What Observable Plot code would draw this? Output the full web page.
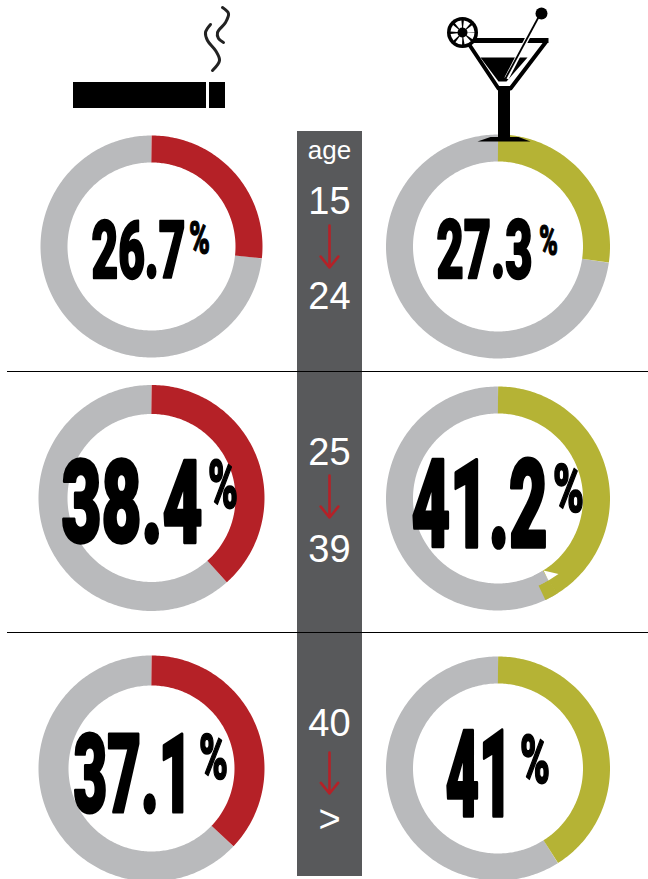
<!DOCTYPE html>
<html><head><meta charset="utf-8">
<script src="https://cdn.jsdelivr.net/npm/d3@7"></script>
<script src="https://cdn.jsdelivr.net/npm/@observablehq/plot@0.6"></script>
<style>html,body{margin:0;padding:0;background:#fff;overflow:hidden}svg{display:block}</style>
</head><body><script>
// ---- values ----
const smokers = [26.7, 38.4, 37.1];
const drinkers = [27.3, 41.2, 41];
const ageFrom = ["15", "25", "40"];
const ageTo = ["24", "39", ">"];
const ageWord = "age";

// ---- layout (pixel frame shared by every mark) ----
const W = 648, H = 879;
const RED = "#b52127", OLIVE = "#b5b335", GREY = "#b9babc", BAR = "#58595b";
const ringLayout = [
  {cx:151, cy:246, r0:84, r1:111}, {cx:151, cy:497.5, r0:84, r1:113}, {cx:151, cy:768, r0:83, r1:113},
  {cx:497.5, cy:246, r0:85, r1:112}, {cx:497.5, cy:498, r0:85, r1:112}, {cx:497.5, cy:768, r0:85, r1:112}
];
const numLayout = [
  {x0:90, x1:186, top:220, bot:279, px0:188, px1:210, ptop:220, pbot:254},
  {x0:60, x1:203, top:458, bot:543, px0:207, px1:238, ptop:458, pbot:508},
  {x0:72, x1:193, top:732, bot:813, px0:198, px1:228, ptop:733, pbot:779},
  {x0:435, x1:533, top:219, bot:279, px0:538, px1:558, ptop:223, pbot:255},
  {x0:410, x1:548, top:458, bot:548, px0:552, px1:584, ptop:463, pbot:512},
  {x0:444, x1:513, top:728, bot:817, px0:519, px1:550, ptop:733, pbot:783}
];
const ageRows = [
  {fromY:213, toY:308, a0:225, a1:267},
  {fromY:464, toY:561, a0:475, a1:517},
  {fromY:735, toY:831, a0:752, a1:793}
];

const values = [...smokers, ...drinkers];
const colours = [RED, RED, RED, OLIVE, OLIVE, OLIVE];
const arc = (ring, r, from, to) => d3.range(from, to, 1).concat([to]).map(deg => {
  const t = deg * Math.PI / 180;
  return {x: ring.cx + r * Math.sin(t), y: ring.cy - r * Math.cos(t)};
});
const band = (ring, from, to, stroke, r0 = ring.r0, r1 = ring.r1) =>
  Plot.line(arc(ring, (r0 + r1) / 2, from, to), {x:"x", y:"y", stroke, strokeWidth:r1 - r0, strokeLinecap:"butt", strokeLinejoin:"round"});

const rings = ringLayout.flatMap((ring, i) => {
  const end = values[i] * 3.6;
  return [band(ring, end, 360, GREY), band(ring, 0, end, colours[i])];
});
// the stray notch at the end of the 41.2% arc in the original artwork
const notch = [
  band(ringLayout[4], 148, 155, OLIVE, 96, 112),
  band(ringLayout[4], 148.3, 155, GREY, 85, 96),
  Plot.line([{x:543,y:570},{x:558,y:573.5},{x:548,y:580}], {x:"x", y:"y", fill:"#fff", stroke:null})
];

const numLabels = values.map((v, i) => {
  const b = numLayout[i];
  const h = b.bot - b.top;
  return {text:String(v), x:b.x0 + 1, y:b.bot - h * 0.02, size:h * 0.96 / 0.711, sw:h * 0.04, w:b.x1 - b.x0 - 2};
});
const pctLabels = numLayout.map(b => {
  const h = b.pbot - b.ptop;
  return {text:"%", x:b.px0 + 0.5, y:b.pbot - h * 0.02, size:h * 0.96 / 0.711, sw:h * 0.035, w:b.px1 - b.px0 - 1};
});
const bigText = (data) => Plot.text(data, {
  x:"x", y:"y", text:"text", fontSize:"size", textAnchor:"start", lineAnchor:"bottom",
  fontFamily:"Roboto", fontWeight:900, fill:"#000", stroke:"#000", strokeWidth:data[0].sw
});

const ageText = (data, size) => Plot.text(data, {x:() => 329, y:"y", text:"text", fontSize:size, fill:"#fff",
  fontFamily:"Liberation Sans", lineAnchor:"bottom", textAnchor:"middle"});

// ---- pictograms ----
const smoke1 = [[210,24],[205,32],[207,40],[215,50],[219,60],[212,70]];
const smoke2 = [[222,7],[228,13],[225,22],[217,32],[218,38],[223,42]];
const glass = [[468,43],[498,88],[510,88],[545,42]];
const liquid = [[480,57],[527,57],[506,81],[498,81]];
const bowl = [[468,43],[498,88],[510,88],[545,42]];
const foot = [[477,141],[490,136.5],[518,136.5],[530,141]];
const poly = (pts, opts) => Plot.line(pts, {x:d => d[0], y:d => d[1], ...opts});
const soft = {imageFilter:"blur(0.6px)"};
const icons = [
  Plot.rect([0], {x1:() => 73, x2:() => 206, y1:() => 82, y2:() => 108, fill:"#000", ...soft}),
  Plot.rect([0], {x1:() => 209, x2:() => 225, y1:() => 82, y2:() => 108, fill:"#000", ...soft}),
  poly(smoke1, {stroke:"#222", strokeWidth:3, curve:"catmull-rom", ...soft}),
  poly(smoke2, {stroke:"#222", strokeWidth:3, curve:"catmull-rom", ...soft}),
  poly(bowl, {fill:"#fff", stroke:null}),
  poly(liquid, {fill:"#000", stroke:null, ...soft}),
  poly(glass, {stroke:"#000", strokeWidth:4, fill:"none", ...soft}),
  Plot.rect([0], {x1:() => 498, x2:() => 510, y1:() => 86, y2:() => 141, fill:"#000", ...soft}),
  poly(foot, {fill:"#000", stroke:null, ...soft}),
  Plot.link([0], {x1:() => 463, x2:() => 548, y1:() => 40, y2:() => 40, stroke:"#000", strokeWidth:5, ...soft}),
  Plot.link([0], {x1:() => 538, x2:() => 506, y1:() => 16, y2:() => 78, stroke:"#fff", strokeWidth:4.5}),
  Plot.link([0], {x1:() => 540, x2:() => 505, y1:() => 13, y2:() => 78, stroke:"#000", strokeWidth:1.8, ...soft}),
  Plot.dot([0], {x:() => 541, y:() => 13, r:6, fill:"#000", ...soft}),
  Plot.dot([0], {x:() => 462, y:() => 32, r:15.5, fill:"#000", ...soft}),
  Plot.dot([0], {x:() => 462, y:() => 32, r:8.5, fill:"none", stroke:"#fff", strokeWidth:7, strokeDasharray:"5 1.8", ...soft}),
];

const bigMarks = [...numLabels, ...pctLabels].map(d => bigText([d]));

const chart = Plot.plot({
  width:W, height:H, margin:0, style:{background:"#fff"},
  x:{domain:[0,W], axis:null}, y:{domain:[H,0], axis:null},
  marks:[
    ...rings, ...notch, ...icons,
    Plot.rect([0], {x1:() => 297, x2:() => 362, y1:() => 131, y2:() => 876, fill:BAR}),
    Plot.ruleY([371, 632], {x1:7, x2:648, stroke:"#000", strokeWidth:1}),
    ageText([{text:ageWord, y:158}], 26),
    ageText(ageRows.map((r,i) => ({text:ageFrom[i], y:r.fromY})), 38),
    ageText(ageRows.map((r,i) => ({text:ageTo[i], y:r.toY})), 38),
    Plot.arrow(ageRows, {x1:() => 329, x2:() => 329, y1:"a0", y2:"a1", stroke:RED, strokeWidth:2.6, headAngle:78, headLength:8.5, bend:0}),
    ...bigMarks
  ]
});
document.body.append(chart);
// squeeze the heavy digits into the condensed poster-type widths of the original
const allText = [...chart.querySelectorAll("text")];
const bigData = [...numLabels, ...pctLabels];
const bigNodes = allText.slice(allText.length - bigData.length);
bigNodes.forEach((t, i) => {
  const sx = bigData[i].w / t.getComputedTextLength();
  const before = t.getAttribute("transform") || "";
  t.setAttribute("transform", `${before || `translate(${bigData[i].x},${bigData[i].y})`} scale(${sx},1)`);
});
// a single-datum text may carry its position on the group: keep it from doubling up
</script></body></html>
